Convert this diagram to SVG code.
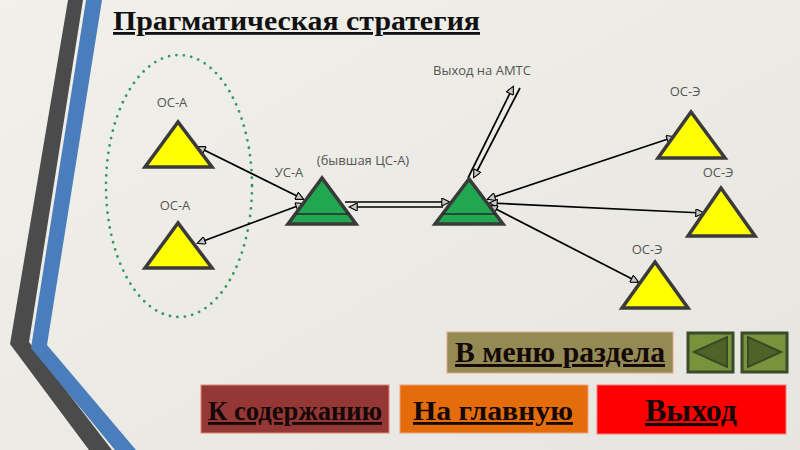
<svg xmlns="http://www.w3.org/2000/svg" width="800" height="450" viewBox="0 0 800 450">
<defs>
<linearGradient id="bg" x1="0" y1="0" x2="1" y2="1">
<stop offset="0" stop-color="#f1f0eb"/>
<stop offset="1" stop-color="#e6e5df"/>
</linearGradient>
<marker id="ah" viewBox="0 0 10 10" refX="9" refY="5" markerWidth="10" markerHeight="8" markerUnits="userSpaceOnUse" orient="auto-start-reverse">
<path d="M0,0 L10,5 L0,10 z" fill="#c8c8c8" stroke="#000" stroke-width="1.4"/>
</marker>
<style>
.lbl{font-family:"Open Sans","DejaVu Sans",sans-serif;font-size:13px;fill:#555;text-anchor:middle}
.ys{fill:#ffff00;stroke:#3a3a3a;stroke-width:3.5;stroke-linejoin:miter}
.gs{fill:#20a750;stroke:#3a3a3a;stroke-width:3.5;stroke-linejoin:miter}
.inner{stroke:#2a2a2a;stroke-width:1.5}
.ln{stroke:#000;stroke-width:1.7;fill:none}
.btn{font-family:"Liberation Serif","Times New Roman",serif;font-weight:bold;fill:#150808;text-anchor:middle;text-decoration:underline}
.nav{fill:#77933c;stroke:#3b4a2a;stroke-width:3}
.navt{fill:#4f6228;stroke:#3a4824;stroke-width:2}
</style>
</defs>
<rect x="0" y="0" width="800" height="450" fill="url(#bg)"/>
<!-- decorative stripes -->
<polygon points="68,0 83,0 29,342 112,450 89,450 10,344" fill="#4b4b4b"/>
<polygon points="86,0 102,0 47,345 136,450 115,450 31,348" fill="#4a7dbb"/>
<!-- title -->
<text x="113" y="30" font-family="Liberation Serif,'Times New Roman',serif" font-weight="bold" font-size="28" fill="#111" text-decoration="underline" textLength="367" lengthAdjust="spacingAndGlyphs">Прагматическая стратегия</text>
<!-- dotted group boundary -->
<ellipse cx="179" cy="186" rx="73" ry="131" fill="none" stroke="#2e9a5e" stroke-width="2.8" stroke-linecap="round" stroke-dasharray="0 7.5"/>
<g id="connectors">
<line class="ln" x1="198" y1="147" x2="303" y2="199" marker-start="url(#ah)" marker-end="url(#ah)"/>
<line class="ln" x1="303" y1="204" x2="198" y2="243" marker-start="url(#ah)" marker-end="url(#ah)"/>
<line class="ln" x1="345" y1="202" x2="449" y2="202" marker-end="url(#ah)"/>
<line class="ln" x1="443" y1="207" x2="350" y2="207" marker-end="url(#ah)"/>
<line class="ln" x1="468" y1="178" x2="513" y2="87" marker-end="url(#ah)"/>
<line class="ln" x1="520" y1="88" x2="474" y2="177" marker-end="url(#ah)"/>
<line class="ln" x1="488" y1="199" x2="674" y2="137" marker-start="url(#ah)" marker-end="url(#ah)"/>
<line class="ln" x1="490" y1="203" x2="703" y2="213" marker-start="url(#ah)" marker-end="url(#ah)"/>
<line class="ln" x1="490" y1="206" x2="638" y2="282" marker-start="url(#ah)" marker-end="url(#ah)"/>
</g>
<g id="os-a-1">
<polygon class="ys" points="178,122 145,167 212,167"/>
<text class="lbl" x="172" y="107">ОС-А</text>
</g>
<g id="os-a-2">
<polygon class="ys" points="178,223 145,268 212,268"/>
<text class="lbl" x="175" y="210">ОС-А</text>
</g>
<g id="us-a">
<polygon class="gs" points="322,178 288,224 356,224"/>
<line class="inner" x1="296" y1="214" x2="349" y2="214"/>
<text class="lbl" x="289" y="177">УС-А</text>
<text class="lbl" x="363" y="165">(бывшая ЦС-А)</text>
</g>
<g id="center">
<polygon class="gs" points="469,179 435,224 503,224"/>
<line class="inner" x1="442" y1="214" x2="496" y2="214"/>
</g>
<g id="amts">
<text class="lbl" x="482" y="75">Выход на АМТС</text>
</g>
<g id="os-e-1">
<polygon class="ys" points="691,112 658,158 725,158"/>
<text class="lbl" x="685" y="96">ОС-Э</text>
</g>
<g id="os-e-2">
<polygon class="ys" points="721,188 688,236 755,236"/>
<text class="lbl" x="718" y="177">ОС-Э</text>
</g>
<g id="os-e-3">
<polygon class="ys" points="655,262 622,308 688,308"/>
<text class="lbl" x="647" y="254">ОС-Э</text>
</g>
<!-- buttons -->
<g id="btn-menu">
<rect x="447" y="332" width="226" height="41" fill="#948a54" stroke="#e8a58a" stroke-width="1"/>
<text class="btn" x="560" y="362" font-size="30" textLength="210" lengthAdjust="spacingAndGlyphs">В меню раздела</text>
</g>
<g id="btn-prev">
<rect x="688" y="333" width="45" height="39" class="nav"/>
<polygon class="navt" points="694,352 727,337 727,367"/>
</g>
<g id="btn-next">
<rect x="742" y="333" width="45" height="39" class="nav"/>
<polygon class="navt" points="781,352 748,337 748,367"/>
</g>
<g id="btn-contents">
<rect x="201" y="385" width="188" height="48" fill="#953735" stroke="#e08878" stroke-width="1"/>
<text class="btn" x="295" y="420" font-size="28" textLength="174" lengthAdjust="spacingAndGlyphs">К содержанию</text>
</g>
<g id="btn-home">
<rect x="400" y="385" width="188" height="48" fill="#e46c0a" stroke="#f0a080" stroke-width="1"/>
<text class="btn" x="493" y="420" font-size="28" textLength="160" lengthAdjust="spacingAndGlyphs">На главную</text>
</g>
<g id="btn-exit">
<rect x="597" y="385" width="189" height="49" fill="#ff0000" stroke="#f08080" stroke-width="1"/>
<text class="btn" x="691" y="421" font-size="31" textLength="92" lengthAdjust="spacingAndGlyphs">Выход</text>
</g>
</svg>
